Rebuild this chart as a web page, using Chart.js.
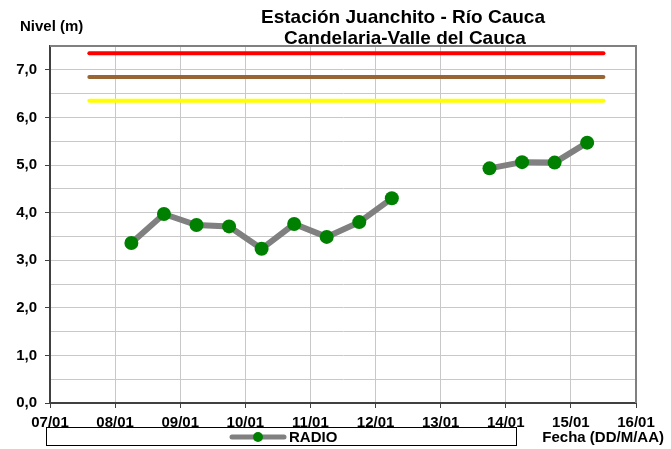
<!DOCTYPE html>
<html>
<head>
<meta charset="utf-8">
<script src="https://cdn.jsdelivr.net/npm/chart.js@4"></script>
<style>
  html, body { margin: 0; padding: 0; background: #fff; }
  canvas { display: block; }
</style>
</head>
<body>
<canvas id="chartNivel" width="671" height="449"></canvas>
<script>
// ====== Datos ======
const dayLabels = ["07/01","08/01","09/01","10/01","11/01","12/01","13/01","14/01","15/01","16/01"];
const radioDates = ["08/01 06:00","08/01 18:00","09/01 06:00","09/01 18:00","10/01 06:00","10/01 18:00",
                    "11/01 06:00","11/01 18:00","12/01 06:00","12/01 18:00","13/01 06:00","13/01 18:00",
                    "14/01 06:00","14/01 18:00","15/01 06:00"];
const radioLevels = [3.36, 3.97, 3.74, 3.71, 3.24, 3.76, 3.49, 3.80, 4.30, null, null, 4.93, 5.06, 5.05, 5.47];
const alertLevels = [7.35, 6.85, 6.35];          // roja, naranja, amarilla
const alertColors = ["#ff0000", "#996633", "#ffff00"];
const alertFrom = "07/01 14:30";
const alertTo   = "15/01 12:00";

const FONT = "'Liberation Sans', Arial, sans-serif";

// "DD/MM HH:mm" -> dias desde 07/01
function dayOffset(s) {
  const [d, t] = s.split(" ");
  const day = +d.split("/")[0];
  const [h, m] = t.split(":").map(Number);
  return (day - 7) + (h + m / 60) / 24;
}
const fmtNivel = v => v.toFixed(1).replace(".", ",");

const datasets = alertLevels.map((lv, i) => ({
  label: "alerta" + i,
  data: [{ x: dayOffset(alertFrom), y: lv }, { x: dayOffset(alertTo), y: lv }],
  borderColor: alertColors[i],
  borderWidth: 4,
  borderCapStyle: "round",
  pointRadius: 0,
  order: 2
}));
datasets.push({
  label: "RADIO",
  data: radioDates.map((d, i) => ({ x: dayOffset(d), y: radioLevels[i] })),
  borderColor: "#808080",
  borderWidth: 6,
  pointRadius: 7,
  pointHoverRadius: 7,
  pointBackgroundColor: "#008000",
  pointBorderColor: "#008000",
  pointBorderWidth: 0,
  spanGaps: false,
  tension: 0,
  order: 1
});

/* ====== Extras: marco, titulos, leyenda ====== */
const decor = {
  id: "decor",
  beforeDatasetsDraw(chart) {
    const { ctx, chartArea: a } = chart;
    ctx.save();
    ctx.strokeStyle = "#808080";
    ctx.lineWidth = 2;
    ctx.beginPath();
    ctx.moveTo(a.left, a.top);
    ctx.lineTo(a.right, a.top);
    ctx.lineTo(a.right, a.bottom);
    ctx.stroke();
    ctx.restore();
  },
  afterDraw(chart) {
    const ctx = chart.ctx;
    ctx.save();
    ctx.fillStyle = "#000";
    ctx.textBaseline = "middle";
    ctx.font = "bold 19px " + FONT;
    ctx.textAlign = "center";
    ctx.fillText("Estación Juanchito - Río Cauca", 403, 17.5);
    ctx.fillText("Candelaria-Valle del Cauca", 405, 38.5);

    ctx.font = "bold 15px " + FONT;
    ctx.textAlign = "left";
    ctx.fillText("Nivel (m)", 20, 27);
    ctx.textAlign = "right";
    ctx.fillText("Fecha (DD/M/AA)", 664, 437.5);

    // leyenda
    const ds = chart.data.datasets.find(d => d.label === "RADIO");
    ctx.strokeStyle = "#000";
    ctx.lineWidth = 1;
    ctx.strokeRect(46.5, 427.5, 470, 18);
    ctx.strokeStyle = ds.borderColor;
    ctx.lineWidth = 5;
    ctx.lineCap = "round";
    ctx.beginPath();
    ctx.moveTo(232, 437);
    ctx.lineTo(284, 437);
    ctx.stroke();
    ctx.fillStyle = ds.pointBackgroundColor;
    ctx.beginPath();
    ctx.arc(258, 437, 5, 0, Math.PI * 2);
    ctx.fill();
    ctx.fillStyle = "#000";
    ctx.textAlign = "left";
    ctx.fillText(ds.label, 289, 437.5);
    ctx.restore();
  }
};

new Chart(document.getElementById("chartNivel"), {
  type: "line",
  data: { datasets },
  options: {
    responsive: false,
    animation: false,
    devicePixelRatio: 1,
    layout: { padding: { top: 46, right: 35, left: 0, bottom: 0 } },
    plugins: { legend: { display: false }, title: { display: false }, tooltip: { enabled: false } },
    scales: {
      x: {
        type: "linear",
        min: 0, max: 9,
        afterFit: s => { s.height = 46; },
        ticks: {
          stepSize: 1,
          autoSkip: false,
          maxRotation: 0,
          padding: 6,
          color: "#000",
          font: { family: FONT, size: 15, weight: "bold" },
          callback: (v) => dayLabels[Math.round(v)] ?? ""
        },
        grid: { color: "#c8c8c8", lineWidth: 1, tickLength: 5, tickColor: "#404040" },
        border: { color: "#404040", width: 2 }
      },
      y: {
        min: 0, max: 7.5,
        afterFit: s => { s.width = 50; },
        ticks: {
          stepSize: 0.5,
          padding: 8,
          color: "#000",
          font: { family: FONT, size: 15, weight: "bold" },
          callback: v => (Math.abs(v % 1) < 1e-6 ? fmtNivel(v) : "")
        },
        grid: {
          color: "#c8c8c8",
          lineWidth: 1,
          tickLength: 5,
          tickColor: c => (c.tick && Math.abs(c.tick.value % 1) < 1e-6 ? "#404040" : "rgba(0,0,0,0)")
        },
        border: { color: "#404040", width: 2 }
      }
    }
  },
  plugins: [decor]
});
</script>
</body>
</html>
